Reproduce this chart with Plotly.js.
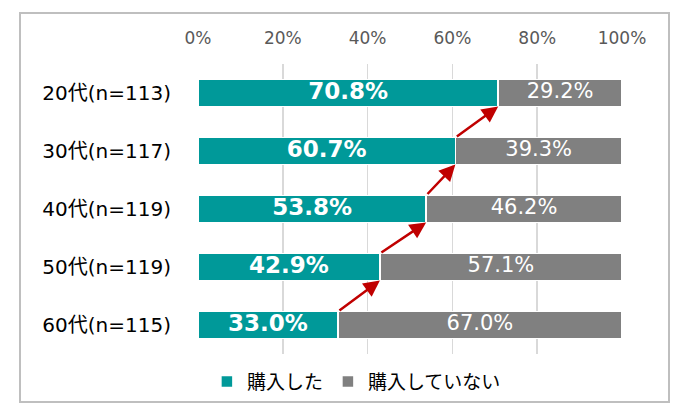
<!DOCTYPE html>
<html>
<head>
<meta charset="utf-8">
<script src="https://cdn.plot.ly/plotly-3.0.1.min.js"></script>
<style>html,body{margin:0;padding:0;background:#fff}#chart{width:691px;height:418px}</style>
</head>
<body>
<div id="chart"></div>
<script>
var categories = ["20代(n=113)", "30代(n=117)", "40代(n=119)", "50代(n=119)", "60代(n=115)"];
var purchased = [70.8, 60.7, 53.8, 42.9, 33.0];
var notPurchased = [29.2, 39.3, 46.2, 57.1, 67.0];
var seriesNames = ["購入した", "購入していない"];
var xTicks = [0, 20, 40, 60, 80, 100];

var FONT = "DejaVu Sans, Noto Sans CJK JP, sans-serif";
var CJK = "Noto Sans CJK JP, DejaVu Sans, sans-serif";
var TEAL = "#009999", GRAY = "#808080", RED = "#C00000";

var idx = categories.map(function(c, i){ return i; });
function fmt(v){ return v.toFixed(1) + "%"; }

var traces = [
  {type:"bar", orientation:"h", name:seriesNames[0], y:idx, x:purchased,
   marker:{color:TEAL, line:{color:"#ffffff", width:1.5}}, hoverinfo:"skip"},
  {type:"bar", orientation:"h", name:seriesNames[1], y:idx, x:notPurchased,
   marker:{color:GRAY, line:{color:"#ffffff", width:1.5}}, hoverinfo:"skip"},
  {type:"scatter", mode:"text", showlegend:false, hoverinfo:"skip", y:idx,
   x:purchased.map(function(v){ return v / 2; }),
   text:purchased.map(fmt), textposition:"middle center",
   textfont:{family:FONT, size:23, color:"#ffffff", weight:"bold"}},
  {type:"scatter", mode:"text", showlegend:false, hoverinfo:"skip", y:idx,
   x:purchased.map(function(v, i){ return v + notPurchased[i] / 2; }),
   text:notPurchased.map(fmt), textposition:"middle center",
   textfont:{family:FONT, size:21, color:"#ffffff"}}
];

var bargap = 0.534;
var h = (1 - bargap) / 2;
var annotations = [];
for (var k = purchased.length - 1; k >= 1; k--) {
  annotations.push({
    xref:"x", yref:"y", axref:"x", ayref:"y",
    x: purchased[k-1], y: (k-1) + h,
    ax: purchased[k], ay: k - h,
    text:"", showarrow:true, arrowhead:2, arrowsize:1.3, arrowwidth:2.5,
    arrowcolor:RED, standoff:0, startstandoff:0
  });
}

var layout = {
  width:691, height:418,
  margin:{l:198, r:69, t:64, b:64},
  paper_bgcolor:"#ffffff", plot_bgcolor:"#ffffff",
  barmode:"stack", bargap:bargap,
  font:{family:FONT, color:"#000000"},
  xaxis:{side:"top", range:[0,100], tickvals:xTicks, ticktext:xTicks.map(function(v){return v+"%";}),
    showgrid:true, gridcolor:"#d9d9d9", gridwidth:1.5, zeroline:false, showline:false,
    ticks:"outside", ticklen:12, tickcolor:"rgba(0,0,0,0)",
    tickfont:{family:FONT, size:17, color:"#595959"}, fixedrange:true},
  yaxis:{range:[4.5,-0.5], tickvals:idx, ticktext:categories, showgrid:false, zeroline:false,
    ticks:"outside", ticklen:22, tickcolor:"rgba(0,0,0,0)",
    tickfont:{family:FONT, size:20, color:"#000000"}, fixedrange:true},
  showlegend:true,
  legend:{orientation:"h", x:0.021, xanchor:"left", y:-0.03, yanchor:"top",
    font:{family:CJK, size:19, color:"#000000"}, traceorder:"normal",
    itemwidth:30},
  annotations:annotations,
  shapes:[{type:"rect", xref:"paper", yref:"paper",
    x0:(20-198)/424, x1:(669-198)/424, y0:(354-402)/290, y1:(354-13)/290,
    line:{color:"#bfbfbf", width:2}, fillcolor:"rgba(0,0,0,0)", layer:"below"}]
};

Plotly.newPlot("chart", traces, layout, {staticPlot:true, displayModeBar:false});
</script>
</body>
</html>
